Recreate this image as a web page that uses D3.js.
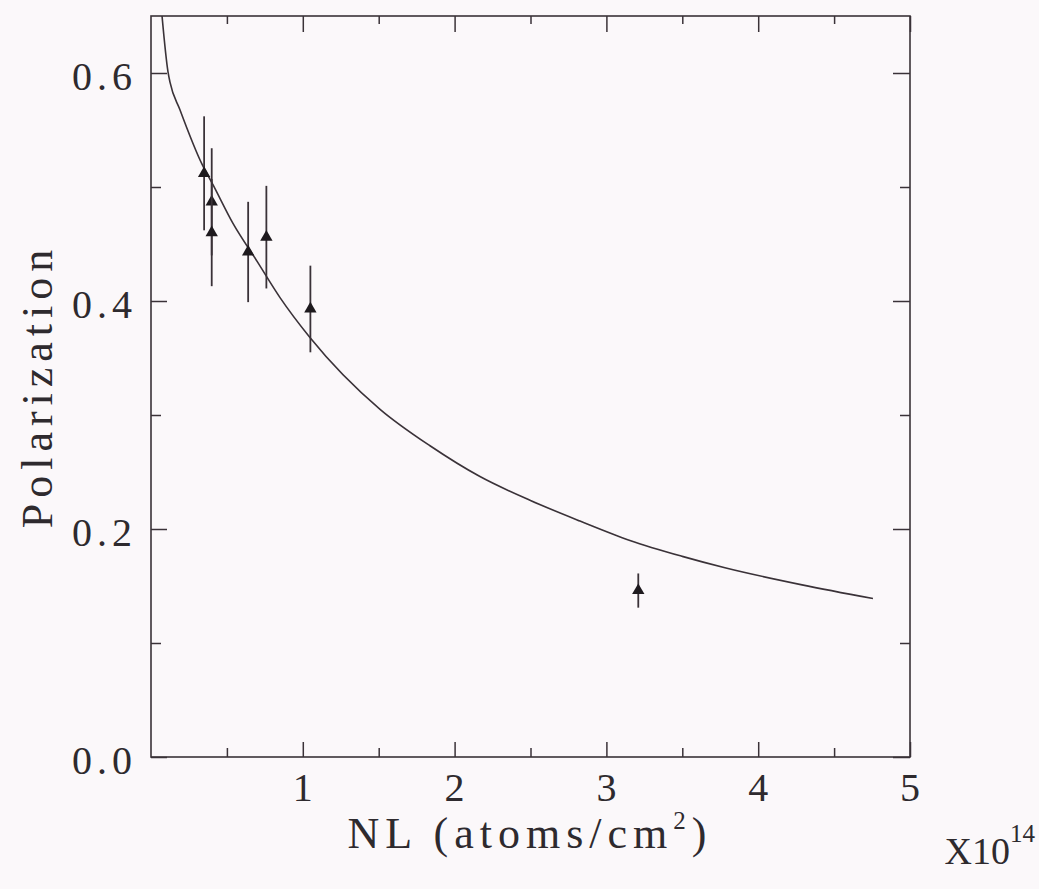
<!DOCTYPE html>
<html>
<head>
<meta charset="utf-8">
<script src="https://cdn.jsdelivr.net/npm/d3@7"></script>
<style>
  html, body { margin: 0; padding: 0; background: #fbf8fa; }
  svg { display: block; }
  text { font-family: "Liberation Serif", "Times New Roman", serif; fill: #2e2a2e; }
</style>
</head>
<body>
<svg></svg>
<script>
  // measured points (NL in 1e14 atoms/cm2)
  var pointNL = [0.35, 0.40, 0.40, 0.64, 0.76, 1.05, 3.21];
  var pointPol = [0.512, 0.487, 0.460, 0.443, 0.456, 0.393, 0.146];
  var pointErr = [0.050, 0.047, 0.047, 0.044, 0.045, 0.038, 0.015];

  // fitted curve
  var curveNL = [0.072, 0.112, 0.125, 0.19, 0.336, 0.408, 0.54, 0.698, 0.85, 1.047, 1.509, 1.838, 2.167, 2.5, 2.826, 3.155, 3.5, 3.781, 4.289, 4.756];
  var curvePol = [0.651, 0.601, 0.592, 0.568, 0.520, 0.502, 0.468, 0.435, 0.403, 0.368, 0.305, 0.273, 0.246, 0.225, 0.207, 0.190, 0.176, 0.166, 0.151, 0.139];

  var xMajor = [1, 2, 3, 4, 5];
  var xMinor = [0.5, 1.5, 2.5, 3.5, 4.5];
  var yMajor = [0, 0.2, 0.4, 0.6];
  var yMinor = [0.1, 0.3, 0.5];

  var width = 1039;
  var height = 889;
  var ink = '#3a3238';

  var svg = d3.select('svg')
    .attr('width', width)
    .attr('height', height)
    ;

  var x = d3.scaleLinear().domain([0, 5]).range([151, 910]);
  var y = d3.scaleLinear().domain([0, 0.65]).range([757, 16]);

  // note: "top" is taken by window.top
  var plotLeft = x.range()[0], plotRight = x.range()[1];
  var plotTop = y.range()[1], plotBottom = y.range()[0];

  svg.append('defs').append('clipPath')
    .attr('id', 'plotclip')
    .append('rect')
    .attr('x', plotLeft)
    .attr('y', plotTop)
    .attr('width', plotRight - plotLeft)
    .attr('height', plotBottom - plotTop);

  function styleAxis(g) {
    g.select('.domain').remove();
    g.selectAll('.tick line').attr('stroke', ink).attr('stroke-width', 1.5);
    g.selectAll('text')
      .style('font-size', '40px')
      .style('letter-spacing', '5px');
  }

  // bottom
  svg.append('g')
    .attr('transform', 'translate(0,' + plotBottom + ')')
    .call(d3.axisBottom(x).tickValues(xMajor).tickSize(-15).tickPadding(16).tickFormat(d3.format('d')))
    .call(styleAxis)
    .selectAll('text').attr('dx', '2px');
  svg.append('g')
    .attr('transform', 'translate(0,' + plotBottom + ')')
    .call(d3.axisBottom(x).tickValues(xMinor).tickSize(-9).tickFormat(''))
    .call(styleAxis);

  // top
  svg.append('g')
    .attr('transform', 'translate(0,' + plotTop + ')')
    .call(d3.axisTop(x).tickValues(xMajor).tickSize(-16).tickFormat(''))
    .call(styleAxis);
  svg.append('g')
    .attr('transform', 'translate(0,' + plotTop + ')')
    .call(d3.axisTop(x).tickValues(xMinor).tickSize(-8).tickFormat(''))
    .call(styleAxis);

  // left
  svg.append('g')
    .attr('transform', 'translate(' + plotLeft + ',0)')
    .call(d3.axisLeft(y).tickValues(yMajor).tickSize(-16).tickPadding(14).tickFormat(d3.format('.1f')))
    .call(styleAxis)
    .selectAll('text').attr('dy', '0.42em');
  svg.append('g')
    .attr('transform', 'translate(' + plotLeft + ',0)')
    .call(d3.axisLeft(y).tickValues(yMinor).tickSize(-10).tickFormat(''))
    .call(styleAxis);

  // right
  svg.append('g')
    .attr('transform', 'translate(' + plotRight + ',0)')
    .call(d3.axisRight(y).tickValues(yMajor).tickSize(-17).tickFormat(''))
    .call(styleAxis);
  svg.append('g')
    .attr('transform', 'translate(' + plotRight + ',0)')
    .call(d3.axisRight(y).tickValues(yMinor).tickSize(-10).tickFormat(''))
    .call(styleAxis);

  // frame
  svg.append('rect')
    .attr('x', plotLeft)
    .attr('y', plotTop)
    .attr('width', plotRight - plotLeft)
    .attr('height', plotBottom - plotTop)
    .attr('fill', 'none')
    .attr('stroke', ink)
    .attr('stroke-width', 1.6);

  // curve
  var curveData = curveNL.map(function(d, i) { return [d, curvePol[i]]; });
  var line = d3.line()
    .x(function(d) { return x(d[0]); })
    .y(function(d) { return y(d[1]); })
    .curve(d3.curveMonotoneX);

  svg.append('path')
    .datum(curveData)
    .attr('clip-path', 'url(#plotclip)')
    .attr('d', line)
    .attr('fill', 'none')
    .attr('stroke', ink)
    .attr('stroke-width', 1.6);

  // points + error bars
  var pts = pointNL.map(function(d, i) {
    return { nl: d, pol: pointPol[i], err: pointErr[i] };
  });

  var pg = svg.append('g').selectAll('g')
    .data(pts)
    .enter()
    .append('g');

  pg.append('line')
    .attr('x1', function(d) { return x(d.nl); })
    .attr('x2', function(d) { return x(d.nl); })
    .attr('y1', function(d) { return y(d.pol + d.err); })
    .attr('y2', function(d) { return y(d.pol - d.err); })
    .attr('stroke', ink)
    .attr('stroke-width', 1.8);

  pg.append('path')
    .attr('transform', function(d) {
      return 'translate(' + x(d.nl) + ',' + y(d.pol) + ')';
    })
    .attr('d', d3.symbol(d3.symbolTriangle, 66))
    .attr('fill', '#1e1a1e');

  // titles
  svg.append('text')
    .attr('transform', 'translate(52,' + 386 + ') rotate(-90)')
    .attr('text-anchor', 'middle')
    .style('font-size', '44px')
    .style('letter-spacing', '6px')
    .text('Polarization');

  var xt = svg.append('text')
    .attr('x', 530)
    .attr('y', 848)
    .attr('text-anchor', 'middle')
    .style('font-size', '44px')
    .style('letter-spacing', '6px');
  xt.append('tspan').text('NL (atoms/cm');
  xt.append('tspan').attr('dy', -19).style('font-size', '25px').text('2');
  xt.append('tspan').attr('dy', 19).text(')');

  var mult = svg.append('text')
    .attr('x', 1035)
    .attr('y', 864)
    .attr('text-anchor', 'end')
    .style('font-size', '38px');
  mult.append('tspan').text('X10');
  mult.append('tspan').attr('dy', -22).style('font-size', '25px').text('14');
</script>
</body>
</html>
